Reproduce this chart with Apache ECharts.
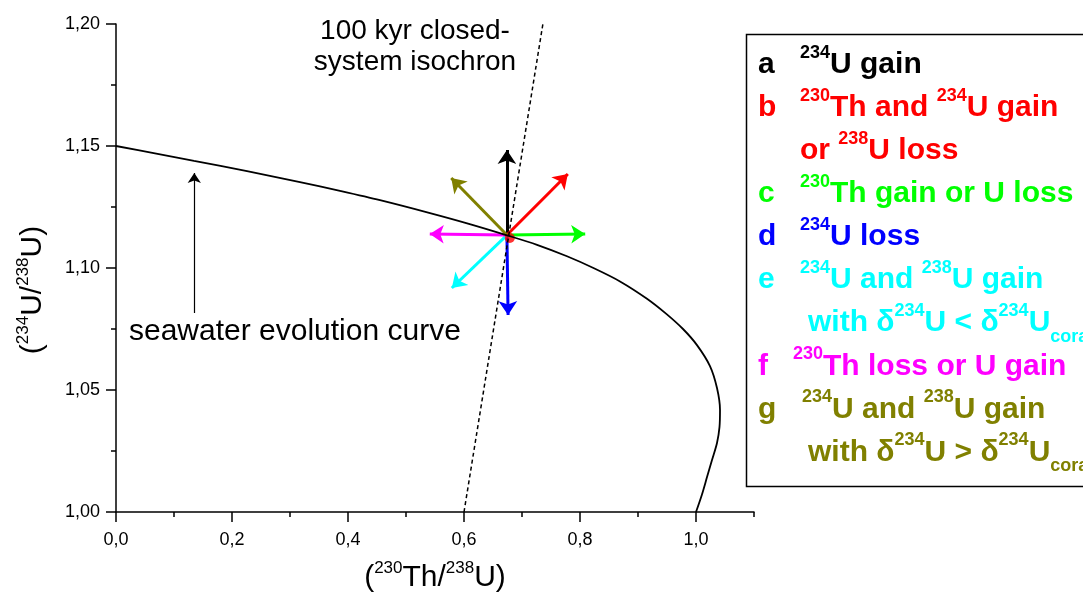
<!DOCTYPE html>
<html>
<head>
<meta charset="utf-8">
<script src="https://cdn.jsdelivr.net/npm/echarts@6/dist/echarts.min.js"></script>
<style>
  html, body { margin: 0; padding: 0; background: #fff; }
  #chart { width: 1083px; height: 597px; }
</style>
</head>
<body>
<div id="chart"></div>
<script>
// seawater evolution curve
const curveX = [0, 0.0672, 0.1345, 0.2259, 0.3172, 0.3862, 0.4552, 0.5414, 0.6069, 0.6741, 0.7259, 0.7776, 0.8241,
  0.869, 0.9155, 0.9483, 0.9776, 1.0017, 1.0241, 1.0362, 1.0414, 1.0405, 1.0362, 1.0276, 1.019, 1.0103, 1.0];
const curveY = [1.15, 1.147, 1.1439, 1.1397, 1.1352, 1.1316, 1.1278, 1.1225, 1.1182, 1.1134, 1.1095, 1.1048, 1.0999,
  1.0945, 1.0874, 1.0813, 1.075, 1.0684, 1.0598, 1.0508, 1.0418, 1.0348, 1.0283, 1.0213, 1.0143, 1.0072, 1.0];

// 100 kyr isochron
const isoX = [0.6, 0.736];
const isoY = [1.0, 1.2];

// vectors a..g from the coral point
const origin = [0.674, 1.1135];
const arrowNames = ["a", "b", "c", "d", "e", "f", "g"];
const arrowColors = ["#000000", "#ff0000", "#00ff00", "#0000ff", "#00ffff", "#ff00ff", "#808000"];
const arrowEndX = [0.674, 0.779, 0.809, 0.676, 0.579, 0.541, 0.578];
const arrowEndY = [1.1484, 1.1385, 1.1139, 1.0807, 1.0918, 1.1139, 1.1369];
const labelX = [0.679, 0.803, 0.836, 0.679, 0.566, 0.524, 0.559];
const labelY = [1.1545, 1.1414, 1.1131, 1.0713, 1.0881, 1.1135, 1.1414];
const dotPoint = [0.679, 1.1123];

// small arrow pointing at the curve
const swArrowX = [0.135, 0.135];
const swArrowY = [1.0816, 1.1389];

const xMajor = [0, 0.2, 0.4, 0.6, 0.8, 1.0];

const FONT = "'Liberation Sans', Arial, sans-serif";

const legendTexts = [
  ["a", "{s|234}{m|U gain}", 800],
  ["b", "{s|230}{m|Th and }{s|234}{m|U gain}", 800],
  ["", "{m|or }{s|238}{m|U loss}", 800],
  ["c", "{s|230}{m|Th gain or U loss}", 800],
  ["d", "{s|234}{m|U loss}", 800],
  ["e", "{s|234}{m|U and }{s|238}{m|U gain}", 800],
  ["", "{m|with δ}{s|234}{m|U < δ}{s|234}{m|U}{b|coral}", 808],
  ["f", "{s|230}{m|Th loss or U gain}", 793],
  ["g", "{s|234}{m|U and }{s|238}{m|U gain}", 802],
  ["", "{m|with δ}{s|234}{m|U > δ}{s|234}{m|U}{b|coral}", 808]
];
const legendColors = ["#000000", "#ff0000", "#ff0000", "#00ff00", "#0000ff", "#00ffff", "#00ffff", "#ff00ff", "#808000", "#808000"];

const chart = echarts.init(document.getElementById("chart"));

function legendRich() {
  return {
    m: { fontFamily: FONT, fontWeight: "bold", fontSize: 30, padding: [6, 0, 0, 0], verticalAlign: "top" },
    s: { fontFamily: FONT, fontWeight: "bold", fontSize: 18, verticalAlign: "top" },
    b: { fontFamily: FONT, fontWeight: "bold", fontSize: 18, padding: [26, 0, 0, 0], verticalAlign: "top" }
  };
}

const titleRich = {
  m: { fontFamily: FONT, fontSize: 30, padding: [3, 0, 0, 0], verticalAlign: "top" },
  s: { fontFamily: FONT, fontSize: 17, verticalAlign: "top" }
};

const graphics = [
  {
    type: "rect",
    shape: { x: 746.5, y: 34.5, width: 400, height: 452 },
    style: { fill: "none", stroke: "#000", lineWidth: 1.5 }
  },
  {
    type: "text", x: 435, y: 576,
    style: { text: "{m|(}{s|230}{m|Th/}{s|238}{m|U)}", rich: titleRich, fill: "#000", align: "center", verticalAlign: "middle" }
  },
  {
    type: "text", x: 31, y: 290, rotation: Math.PI / 2,
    style: { text: "{m|(}{s|234}{m|U/}{s|238}{m|U)}", rich: titleRich, fill: "#000", align: "center", verticalAlign: "middle" }
  },
  {
    type: "text", x: 415, y: 31,
    style: { text: "100 kyr closed-", fontFamily: FONT, fontSize: 28, fill: "#000", align: "center", verticalAlign: "middle" }
  },
  {
    type: "text", x: 415, y: 62,
    style: { text: "system isochron", fontFamily: FONT, fontSize: 28, fill: "#000", align: "center", verticalAlign: "middle" }
  },
  {
    type: "text", x: 129, y: 332,
    style: { text: "seawater evolution curve", fontFamily: FONT, fontSize: 30, fill: "#000", align: "left", verticalAlign: "middle" }
  }
];

legendTexts.forEach((row, i) => {
  const top = 75 + i * 43.1 - 31.4;
  if (row[0]) {
    graphics.push({
      type: "text", x: 758, y: top,
      style: { text: "{m|" + row[0] + "}", rich: legendRich(), fill: legendColors[i], align: "left", verticalAlign: "top" }
    });
  }
  graphics.push({
    type: "text", x: row[2], y: top,
    style: { text: row[1], rich: legendRich(), fill: legendColors[i], align: "left", verticalAlign: "top" }
  });
});

const arrowData = arrowNames.map((n, i) => ({
  coords: [origin, [arrowEndX[i], arrowEndY[i]]],
  lineStyle: { color: arrowColors[i] }
}));

const labelData = arrowNames.map((n, i) => ({
  value: [labelX[i], labelY[i]],
  name: n,
  label: { color: arrowColors[i] }
}));

const commaFmt = (d) => (v) => v.toFixed(d).replace(".", ",");

const option = {
  animation: false,
  backgroundColor: "#fff",
  grid: [
    { left: 116, right: 329, top: 24, bottom: 85 },
    { left: 116, right: 329, top: 24, bottom: 85 }
  ],
  xAxis: [
    {
      type: "value", gridIndex: 0, min: 0, max: 1.1, interval: 0.2,
      axisLine: { lineStyle: { color: "#000", width: 1.5 } },
      axisTick: { length: 10, customValues: xMajor, lineStyle: { color: "#000", width: 1.5 } },
      axisLabel: { customValues: xMajor, formatter: commaFmt(1), color: "#000", fontSize: 18, fontFamily: FONT, margin: 19 },
      splitLine: { show: false }
    },
    {
      type: "value", gridIndex: 1, min: 0, max: 1.1, interval: 0.1,
      axisLine: { show: false },
      axisTick: { length: 5, lineStyle: { color: "#000", width: 1.5 } },
      axisLabel: { show: false },
      splitLine: { show: false }
    }
  ],
  yAxis: [
    {
      type: "value", gridIndex: 0, min: 1.0, max: 1.2, interval: 0.05,
      axisLine: { show: true, lineStyle: { color: "#000", width: 1.5 } },
      axisTick: { show: true, length: 10, lineStyle: { color: "#000", width: 1.5 } },
      minorTick: { show: true, splitNumber: 2, length: 5, lineStyle: { color: "#000", width: 1.5 } },
      axisLabel: { formatter: commaFmt(2), color: "#000", fontSize: 18, fontFamily: FONT, margin: 16 },
      splitLine: { show: false }
    },
    { type: "value", gridIndex: 1, min: 0, max: 1, show: false }
  ],
  series: [
    {
      type: "line", xAxisIndex: 0, yAxisIndex: 0,
      data: curveX.map((x, i) => [x, curveY[i]]),
      smooth: 0.3, showSymbol: false, symbol: "none",
      lineStyle: { color: "#000", width: 1.8 }
    },
    {
      type: "line", xAxisIndex: 0, yAxisIndex: 0,
      data: isoX.map((x, i) => [x, isoY[i]]),
      showSymbol: false, symbol: "none",
      lineStyle: { color: "#000", width: 1.5, type: [4, 3] }
    },
    {
      type: "scatter", xAxisIndex: 0, yAxisIndex: 0,
      data: [dotPoint], symbolSize: 10,
      itemStyle: { color: "#ff0000" }
    },
    {
      type: "lines", coordinateSystem: "cartesian2d", xAxisIndex: 0, yAxisIndex: 0,
      data: arrowData,
      symbol: ["none", "arrow"], symbolSize: [8, 14],
      lineStyle: { width: 3, opacity: 1, curveness: 0 }
    },
    {
      type: "lines", coordinateSystem: "cartesian2d", xAxisIndex: 0, yAxisIndex: 0,
      data: [{ coords: [[swArrowX[0], swArrowY[0]], [swArrowX[1], swArrowY[1]]] }],
      symbol: ["none", "arrow"], symbolSize: [6, 10],
      lineStyle: { width: 1.2, color: "#000", opacity: 1, curveness: 0 }
    },
    {
      type: "scatter", xAxisIndex: 0, yAxisIndex: 0,
      data: labelData, symbolSize: 1,
      itemStyle: { opacity: 0 },
      label: {
        show: true, position: "inside", formatter: "{b}",
        fontFamily: FONT, fontWeight: "bold", fontSize: 26
      }
    }
  ],
  graphic: graphics
};

chart.setOption(option);
</script>
</body>
</html>
